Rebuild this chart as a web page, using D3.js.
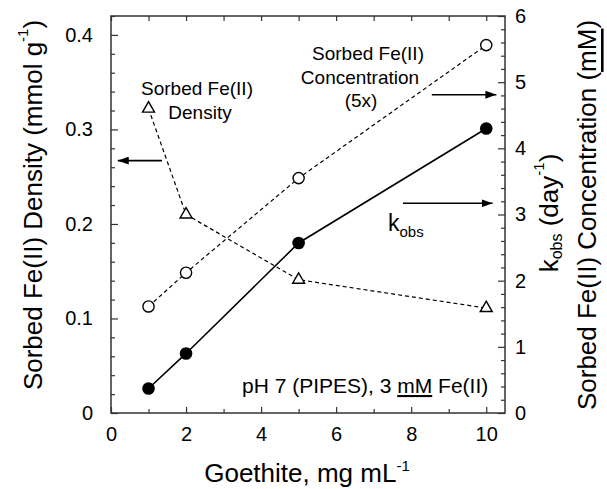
<!DOCTYPE html>
<html>
<head>
<meta charset="utf-8">
<script src="https://cdn.jsdelivr.net/npm/d3@7"></script>
<style>
  body { margin: 0; background: #fff; }
  text { font-family: "Liberation Sans", Arial, Helvetica, sans-serif; fill: #000; }
</style>
</head>
<body>
<svg id="chart" width="607" height="489"></svg>
<script>
// values
const goethite = [1, 2, 5, 10]
const kobs = [0.37, 0.90, 2.57, 4.30]
const sorbedConc5x = [1.61, 2.12, 3.55, 5.56]
const sorbedDensity = [0.322, 0.210, 0.141, 0.111]

const xTicks = [0, 2, 4, 6, 8, 10]
const leftTicks = [0, 0.1, 0.2, 0.3, 0.4]
const rightTicks = [0, 1, 2, 3, 4, 5, 6]

const font = '"Liberation Sans", Arial, Helvetica, sans-serif'
const svg = d3.select('#chart')

const margin = { top: 16, right: 102, bottom: 76, left: 111 }
const width = 607 - margin.left - margin.right
const height = 489 - margin.top - margin.bottom

const x = d3.scaleLinear().domain([0, 10.5]).range([0, width])
const yL = d3.scaleLinear().domain([0, 0.42]).range([height, 0])
const yR = d3.scaleLinear().domain([0, 6]).range([height, 0])

const g = svg.append('g')
  .attr('transform', 'translate(' + margin.left + ',' + margin.top + ')')

const defs = svg.append('defs')
defs.append('marker')
  .attr('id', 'arrow')
  .attr('viewBox', '0 0 10 10')
  .attr('refX', 10).attr('refY', 5)
  .attr('markerWidth', 11).attr('markerHeight', 8)
  .attr('markerUnits', 'userSpaceOnUse')
  .attr('preserveAspectRatio', 'none')
  .attr('orient', 'auto')
  .append('path').attr('d', 'M0,0L10,5L0,10z').attr('fill', '#000')

function styleAxis (sel) {
  sel.select('.domain').remove()
  sel.selectAll('line').attr('stroke', '#333').attr('stroke-width', 1.2)
  sel.attr('font-family', font).attr('font-size', 20)
  sel.selectAll('text').attr('fill', '#000')
}

const xMinor = d3.range(1, 11, 2)
const leftMinor = d3.range(0, 0.421, 0.02).filter(v => Math.abs(v * 10 - Math.round(v * 10)) > 1e-6)
const rightMinor = d3.range(0, 6.01, 0.2).filter(v => Math.abs(v - Math.round(v)) > 1e-6)

// bottom
g.append('g').attr('transform', 'translate(0,' + height + ')')
  .call(d3.axisBottom(x).tickValues(xTicks).tickSizeInner(-6).tickSizeOuter(0).tickPadding(14).tickFormat(d3.format('d')))
  .call(styleAxis)
g.append('g').attr('transform', 'translate(0,' + height + ')')
  .call(d3.axisBottom(x).tickValues(xMinor).tickSize(-4).tickFormat(''))
  .call(styleAxis)
// top
g.append('g')
  .call(d3.axisTop(x).tickValues(xTicks.concat(xMinor)).tickSize(-5).tickFormat(''))
  .call(styleAxis)
// left
g.append('g')
  .call(d3.axisLeft(yL).tickValues(leftTicks).tickSizeInner(-7).tickSizeOuter(0).tickPadding(18)
    .tickFormat(d => d === 0 ? '0' : d3.format('.1f')(d)))
  .call(styleAxis)
g.append('g')
  .call(d3.axisLeft(yL).tickValues(leftMinor).tickSize(-4).tickFormat(''))
  .call(styleAxis)
// right
g.append('g').attr('transform', 'translate(' + width + ',0)')
  .call(d3.axisRight(yR).tickValues(rightTicks).tickSizeInner(-7).tickSizeOuter(0).tickPadding(10).tickFormat(d3.format('d')))
  .call(styleAxis)
g.append('g').attr('transform', 'translate(' + width + ',0)')
  .call(d3.axisRight(yR).tickValues(rightMinor).tickSize(-4).tickFormat(''))
  .call(styleAxis)

g.append('rect')
  .attr('width', width).attr('height', height)
  .attr('fill', 'none').attr('stroke', '#333').attr('stroke-width', 1.5)

// series
const densityData = goethite.map((v, i) => ({ x: v, y: sorbedDensity[i] }))
const concData = goethite.map((v, i) => ({ x: v, y: sorbedConc5x[i] }))
const kobsData = goethite.map((v, i) => ({ x: v, y: kobs[i] }))

g.append('path').datum(densityData)
  .attr('d', d3.line().x(d => x(d.x)).y(d => yL(d.y)))
  .attr('fill', 'none').attr('stroke', '#000').attr('stroke-width', 1.2).attr('stroke-dasharray', '4,3')
g.append('path').datum(concData)
  .attr('d', d3.line().x(d => x(d.x)).y(d => yR(d.y)))
  .attr('fill', 'none').attr('stroke', '#000').attr('stroke-width', 1.2).attr('stroke-dasharray', '4,3')
g.append('path').datum(kobsData)
  .attr('d', d3.line().x(d => x(d.x)).y(d => yR(d.y)))
  .attr('fill', 'none').attr('stroke', '#000').attr('stroke-width', 1.6)

g.selectAll('.tri').data(densityData).enter().append('path')
  .attr('class', 'tri')
  .attr('transform', d => 'translate(' + x(d.x) + ',' + yL(d.y) + ')')
  .attr('d', d3.symbol(d3.symbolTriangle, 62))
  .attr('fill', '#fff').attr('stroke', '#000').attr('stroke-width', 1.4)
g.selectAll('.open').data(concData).enter().append('circle')
  .attr('class', 'open')
  .attr('cx', d => x(d.x)).attr('cy', d => yR(d.y)).attr('r', 5.6)
  .attr('fill', '#fff').attr('stroke', '#000').attr('stroke-width', 1.4)
g.selectAll('.dot').data(kobsData).enter().append('circle')
  .attr('class', 'dot')
  .attr('cx', d => x(d.x)).attr('cy', d => yR(d.y)).attr('r', 6.3)
  .attr('fill', '#000')

// arrows pointing at the axes
function arrow (x1, y1, x2, y2) {
  g.append('line')
    .attr('x1', x1).attr('y1', y1).attr('x2', x2).attr('y2', y2)
    .attr('stroke', '#000').attr('stroke-width', 1.6)
    .attr('marker-end', 'url(#arrow)')
}
arrow(x(1.36), yL(0.267), x(0.18), yL(0.267))
arrow(x(8.55), yR(4.81), x(10.27), yR(4.81))
arrow(x(7.78), yR(3.17), x(10.17), yR(3.17))

// annotations
function label (tx, ty, str, size, anchor) {
  return g.append('text').attr('x', tx).attr('y', ty)
    .attr('font-size', size).attr('text-anchor', anchor || 'middle').text(str)
}
label(86, 79, 'Sorbed Fe(II)', 19)
label(89, 103, 'Density', 19)
label(257, 44, 'Sorbed Fe(II)', 19)
label(249, 68, 'Concentration', 19)
label(250, 91, '(5x)', 19)

const k = g.append('text').attr('x', 277).attr('y', 215).attr('font-size', 23)
k.append('tspan').text('k')
k.append('tspan').attr('font-size', 15).attr('dy', 6).text('obs')

const ph = g.append('text').attr('x', 131).attr('y', 377).attr('font-size', 21)
ph.append('tspan').text('pH 7 (PIPES), 3 ')
ph.append('tspan').attr('text-decoration', 'underline').text('mM')
ph.append('tspan').text(' Fe(II)')

// axis titles
const xt = svg.append('text').attr('x', 307).attr('y', 482)
  .attr('font-size', 26).attr('text-anchor', 'middle')
xt.append('tspan').text('Goethite, mg mL')
xt.append('tspan').attr('font-size', 15).attr('dy', -11).text('-1')

const lt = svg.append('text')
  .attr('transform', 'translate(33,205) rotate(-90)')
  .attr('font-size', 26).attr('text-anchor', 'middle').attr('dominant-baseline', 'central')
lt.append('tspan').text('Sorbed Fe(II) Density (mmol g')
lt.append('tspan').attr('font-size', 15).attr('dy', -11).text('-1')
lt.append('tspan').attr('dy', 11).text(')')

const kt = svg.append('text')
  .attr('transform', 'translate(549,213) rotate(-90)')
  .attr('font-size', 26).attr('text-anchor', 'middle').attr('dominant-baseline', 'central')
kt.append('tspan').text('k')
kt.append('tspan').attr('font-size', 16).attr('dy', 7).text('obs')
kt.append('tspan').attr('dy', -7).text(' (day')
kt.append('tspan').attr('font-size', 15).attr('dy', -11).text('-1')
kt.append('tspan').attr('dy', 11).text(')')

const rt = svg.append('text')
  .attr('transform', 'translate(587,215) rotate(-90)')
  .attr('font-size', 26).attr('text-anchor', 'middle').attr('dominant-baseline', 'central')
rt.append('tspan').text('Sorbed Fe(II) Concentration (')
rt.append('tspan').attr('text-decoration', 'underline').text('mM')
rt.append('tspan').text(')')
</script>
</body>
</html>
